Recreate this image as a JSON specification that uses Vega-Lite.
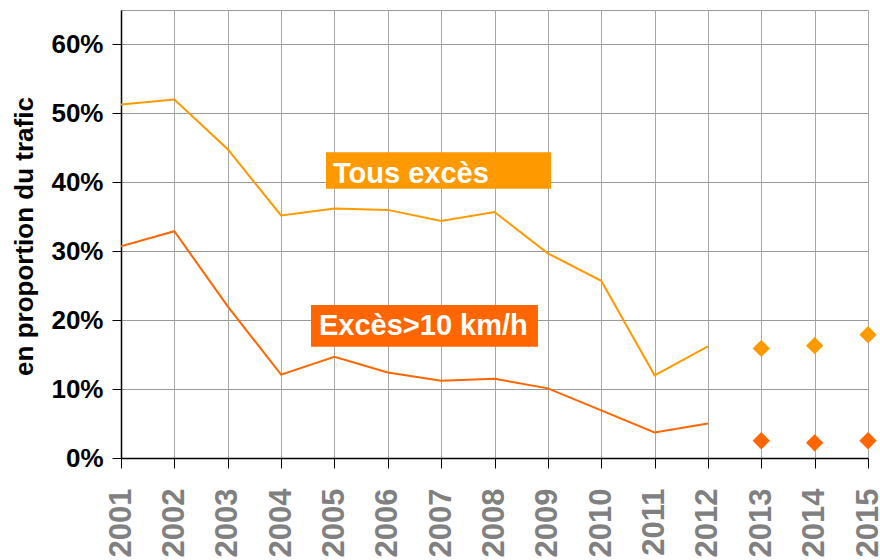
{
  "$schema": "https://vega.github.io/schema/vega-lite/v6.json",
  "autosize": "none",
  "width": 747,
  "height": 448,
  "padding": {"left": 121, "top": 10, "right": 12, "bottom": 102},
  "background": "white",
  "config": {
    "view": {"stroke": "#999999", "strokeWidth": 1},
    "font": "Liberation Sans"
  },
  "datasets": {
    "series": [
      {"year": 2001, "series": "Tous excès", "kind": "line", "value": 0.513},
      {"year": 2002, "series": "Tous excès", "kind": "line", "value": 0.520},
      {"year": 2003, "series": "Tous excès", "kind": "line", "value": 0.448},
      {"year": 2004, "series": "Tous excès", "kind": "line", "value": 0.352},
      {"year": 2005, "series": "Tous excès", "kind": "line", "value": 0.362},
      {"year": 2006, "series": "Tous excès", "kind": "line", "value": 0.360},
      {"year": 2007, "series": "Tous excès", "kind": "line", "value": 0.344},
      {"year": 2008, "series": "Tous excès", "kind": "line", "value": 0.357},
      {"year": 2009, "series": "Tous excès", "kind": "line", "value": 0.297},
      {"year": 2010, "series": "Tous excès", "kind": "line", "value": 0.257},
      {"year": 2011, "series": "Tous excès", "kind": "line", "value": 0.120},
      {"year": 2012, "series": "Tous excès", "kind": "line", "value": 0.162},
      {"year": 2013, "series": "Tous excès", "kind": "point", "value": 0.159},
      {"year": 2014, "series": "Tous excès", "kind": "point", "value": 0.163},
      {"year": 2015, "series": "Tous excès", "kind": "point", "value": 0.179},
      {"year": 2001, "series": "Excès>10 km/h", "kind": "line", "value": 0.307},
      {"year": 2002, "series": "Excès>10 km/h", "kind": "line", "value": 0.329},
      {"year": 2003, "series": "Excès>10 km/h", "kind": "line", "value": 0.220},
      {"year": 2004, "series": "Excès>10 km/h", "kind": "line", "value": 0.121},
      {"year": 2005, "series": "Excès>10 km/h", "kind": "line", "value": 0.147},
      {"year": 2006, "series": "Excès>10 km/h", "kind": "line", "value": 0.124},
      {"year": 2007, "series": "Excès>10 km/h", "kind": "line", "value": 0.112},
      {"year": 2008, "series": "Excès>10 km/h", "kind": "line", "value": 0.115},
      {"year": 2009, "series": "Excès>10 km/h", "kind": "line", "value": 0.101},
      {"year": 2010, "series": "Excès>10 km/h", "kind": "line", "value": 0.069},
      {"year": 2011, "series": "Excès>10 km/h", "kind": "line", "value": 0.037},
      {"year": 2012, "series": "Excès>10 km/h", "kind": "line", "value": 0.050},
      {"year": 2013, "series": "Excès>10 km/h", "kind": "point", "value": 0.025},
      {"year": 2014, "series": "Excès>10 km/h", "kind": "point", "value": 0.022},
      {"year": 2015, "series": "Excès>10 km/h", "kind": "point", "value": 0.025}
    ],
    "labels": [
      {"series": "Tous excès", "x1": 2004.842, "x2": 2009.059, "y1": 0.4436, "y2": 0.3907, "tx": 2004.973, "ty": 0.3995},
      {"series": "Excès>10 km/h", "x1": 2004.561, "x2": 2008.815, "y1": 0.222, "y2": 0.1615, "tx": 2004.711, "ty": 0.1785}
    ]
  },
  "layer": [
    {
      "data": {"name": "series"},
      "transform": [{"filter": "datum.kind == 'line'"}],
      "mark": {"type": "line", "strokeWidth": 2, "clip": true},
      "encoding": {
        "x": {
          "field": "year", "type": "quantitative",
          "scale": {"domain": [2001, 2015], "nice": false, "zero": false},
          "axis": {
            "title": null,
            "values": [2001, 2002, 2003, 2004, 2005, 2006, 2007, 2008, 2009, 2010, 2011, 2012, 2013, 2014, 2015],
            "format": "d",
            "labelAngle": -90,
            "labelAlign": "right",
            "labelBaseline": "middle",
            "labelFont": "Liberation Sans",
            "labelFontSize": 31,
            "labelFontWeight": "bold",
            "labelColor": "#808080",
            "labelPadding": 20,
            "labelFlush": false,
            "labelOverlap": false,
            "tickSize": 10,
            "tickColor": "black",
            "domainColor": "black",
            "domainWidth": 1.5,
            "grid": true,
            "gridColor": "#a6a6a6",
            "gridWidth": 1
          }
        },
        "y": {
          "field": "value", "type": "quantitative",
          "scale": {"domain": [0, 0.65], "nice": false},
          "axis": {
            "title": "en proportion du trafic",
            "titleFont": "Liberation Sans",
            "titleFontSize": 26,
            "titleFontWeight": "bold",
            "titleColor": "black",
            "titleAngle": -90,
            "titleAlign": "center",
            "titleBaseline": "alphabetic",
            "titleX": -89,
            "titleY": 226,
            "values": [0, 0.05, 0.1, 0.15, 0.2, 0.25, 0.3, 0.35, 0.4, 0.45, 0.5, 0.55, 0.6],
            "labelExpr": "round(datum.value*100) % 10 == 0 ? format(datum.value, '.0%') : ''",
            "labelFont": "Liberation Sans",
            "labelFontSize": 26,
            "labelFontWeight": "bold",
            "labelColor": "black",
            "labelPadding": 9,
            "labelFlush": false,
            "labelOverlap": false,
            "tickSize": 9,
            "tickColor": {"condition": {"test": "round(datum.value*100) % 10 != 0", "value": "transparent"}, "value": "black"},
            "domainColor": "black",
            "domainWidth": 1.5,
            "grid": true,
            "gridColor": {"condition": {"test": "round(datum.value*100) % 10 != 0", "value": "#d9d9d9"}, "value": "#999999"},
            "gridWidth": 1
          }
        },
        "color": {
          "field": "series", "type": "nominal",
          "scale": {"domain": ["Tous excès", "Excès>10 km/h"], "range": ["#FF9900", "#FF6600"]},
          "legend": null
        }
      }
    },
    {
      "data": {"name": "series"},
      "transform": [{"filter": "datum.kind == 'point'"}],
      "mark": {"type": "point", "shape": "diamond", "filled": true, "size": 300, "opacity": 1, "clip": false},
      "encoding": {
        "x": {"field": "year", "type": "quantitative"},
        "y": {"field": "value", "type": "quantitative"},
        "color": {"field": "series", "type": "nominal", "legend": null}
      }
    },
    {
      "data": {"name": "labels"},
      "mark": {"type": "rect"},
      "encoding": {
        "x": {"field": "x1", "type": "quantitative"},
        "x2": {"field": "x2"},
        "y": {"field": "y1", "type": "quantitative"},
        "y2": {"field": "y2"},
        "color": {"field": "series", "type": "nominal", "legend": null}
      }
    },
    {
      "data": {"name": "labels"},
      "mark": {"type": "text", "align": "left", "baseline": "alphabetic", "font": "Liberation Sans", "fontSize": 29, "fontWeight": "bold", "color": "white"},
      "encoding": {
        "x": {"field": "tx", "type": "quantitative"},
        "y": {"field": "ty", "type": "quantitative"},
        "text": {"field": "series"}
      }
    }
  ]
}
